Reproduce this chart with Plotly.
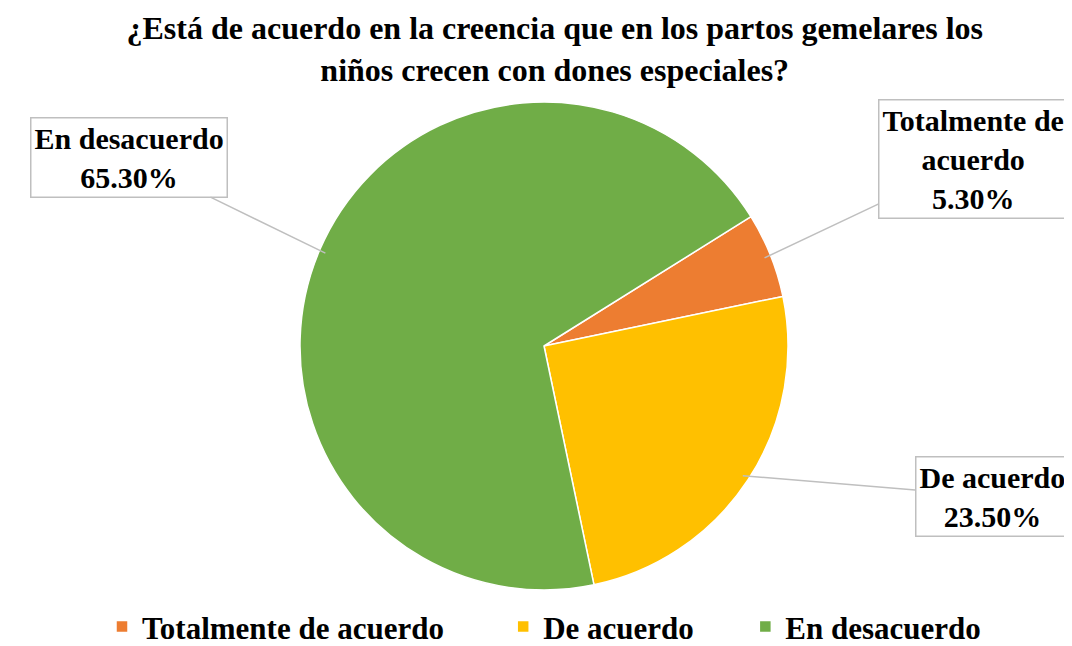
import math
import plotly.graph_objects as go

# Data
categories = ["Totalmente de acuerdo", "De acuerdo", "En desacuerdo"]
values = [5.3, 23.5, 65.3]
pct_labels = ["5.30%", "23.50%", "65.30%"]
colors = ["#ED7D31", "#FFC000", "#70AD47"]
title_text = "¿Está de acuerdo en la creencia que en los partos gemelares los<br>niños crecen con dones especiales?"

W, H = 1072, 646
ML, MR, MT, MB = 0, 0, 94, 62
rotation = 58
FONT = "Liberation Serif"

legend_pad = [7, 6, 0]
fig = go.Figure(go.Pie(
    labels=["<b>" + c + "</b>" + "&nbsp;" * n for c, n in zip(categories, legend_pad)],
    values=values,
    marker=dict(colors=colors, line=dict(color="white", width=1.5)),
    sort=False,
    direction="clockwise",
    rotation=rotation,
    textinfo="none",
    hoverinfo="label+text",
    text=pct_labels,
    domain=dict(x=[0, 1], y=[0, 1]),
))

# Label callouts placed relative to each slice's mid-angle
plot_w, plot_h = W - ML - MR, H - MT - MB
cx, cy = ML + plot_w / 2, MT + plot_h / 2
r = min(plot_w, plot_h) / 2
box_centers = [(965, 152), (984, 490), (121, 150)]
total = sum(values)
start = rotation
annotations = []
for cat, v, p, (bx, by) in zip(categories, values, pct_labels, box_centers):
    span = v / total * 360
    mid = math.radians(start + span / 2)
    start += span
    tx = cx + 0.97 * r * math.sin(mid)
    ty = cy - 0.97 * r * math.cos(mid)
    txt = cat.replace("Totalmente de acuerdo", "Totalmente de<br>acuerdo") + "<br>" + p
    annotations.append(dict(
        x=(tx - ML) / plot_w, y=(H - MB - ty) / plot_h, xref="paper", yref="paper",
        text="<b>" + txt + "</b>", showarrow=True, arrowhead=0, arrowwidth=1.5, arrowcolor="#BFBFBF",
        ax=bx - tx, ay=by - ty, axref="pixel", ayref="pixel",
        bordercolor="#BFBFBF", borderwidth=1.5, borderpad=3, bgcolor="white",
        font=dict(family=FONT, size=30, color="black"),
        align="center",
    ))

fig.update_layout(
    width=W, height=H,
    margin=dict(l=ML, r=MR, t=MT, b=MB),
    paper_bgcolor="white",
    title=dict(text="<b>" + title_text + "</b>", x=0.51, xanchor="center", y=0.952, yanchor="top",
               font=dict(family=FONT, size=32, color="black")),
    font=dict(family=FONT, color="black"),
    legend=dict(orientation="h", x=0.5, xanchor="center", y=-0.02, yanchor="top",
                font=dict(family=FONT, size=31, color="black"),
                traceorder="normal", itemclick=False, itemdoubleclick=False),
    annotations=annotations,
)

fig.write_html("out.html")
